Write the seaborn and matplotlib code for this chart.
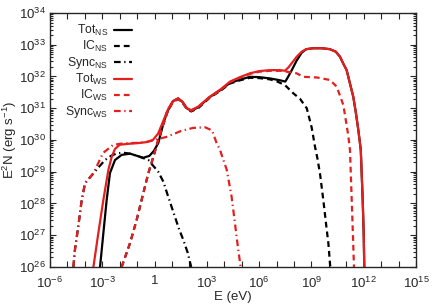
import matplotlib
matplotlib.use("Agg")
import matplotlib.pyplot as plt
import matplotlib.ticker as mticker
import numpy as np
import pandas as pd
import seaborn as sns

# log10(E/eV) と log10(E^2N) を図から読み取った値
tot_ns_x = [-3.13, -2.94, -2.75, -2.56, -2.27, -1.89, -1.41, -1.0, -0.65, -0.3, -0.05, 0.21, 0.48, 0.69,
            1.05, 1.35, 1.6, 1.85, 2.1, 2.5, 3.16, 3.8, 4.33, 4.9, 5.47, 6.0, 6.62, 7.2, 7.5, 7.62,
            7.87, 8.15, 8.44, 8.7, 9.1, 9.6, 10.06, 10.4, 10.64, 10.83, 11.02, 11.2, 11.4, 11.55,
            11.69, 11.83, 11.94, 12.0, 12.03]
tot_ns_y = [26.0, 27.06, 28.11, 28.96, 29.37, 29.53, 29.57, 29.5, 29.44, 29.5, 29.65, 29.9, 30.47, 30.85,
            31.22, 31.31, 31.2, 31.0, 30.92, 31.03, 31.35, 31.58, 31.8, 31.9, 31.99, 31.98, 31.94, 31.88, 31.84, 31.95,
            32.2, 32.5, 32.75, 32.86, 32.89, 32.89, 32.86, 32.78, 32.62, 32.4, 32.2, 31.8, 31.36, 30.85,
            30.31, 29.69, 28.11, 27.0, 26.0]

ic_ns_x = [-1.89, -1.41, -1.03, -0.65, -0.36, -0.07, 0.21, 0.5, 0.75, 1.05, 1.35, 1.6, 1.85, 2.1,
           2.5, 3.16, 3.8, 4.33, 4.9, 5.47, 6.0, 6.62, 7.0, 7.48, 7.96, 8.34, 8.73, 9.01, 9.2,
           9.35, 9.5, 9.68, 9.85, 9.97, 10.08]
ic_ns_y = [26.0, 26.75, 27.48, 28.32, 28.95, 29.47, 30.0, 30.5, 30.9, 31.2, 31.29, 31.18, 30.98, 30.9,
           31.0, 31.33, 31.56, 31.78, 31.88, 31.96, 31.95, 31.91, 31.85, 31.73, 31.47, 31.3, 31.0, 30.4, 29.8,
           29.4, 28.9, 28.11, 27.3, 26.75, 26.0]

sync_ns_x = [-4.66, -4.57, -4.38, -4.18, -3.99, -3.51, -3.2, -2.84, -2.5, -2.17, -1.8, -1.41, -1.0,
             -0.36, 0.21, 0.5, 0.79, 1.07, 1.4, 1.65, 1.9, 2.1]
sync_ns_y = [26.0, 26.54, 27.27, 28.11, 28.64, 28.95, 29.15, 29.37, 29.5, 29.58, 29.6, 29.57, 29.5,
             29.37, 29.0, 28.69, 28.2, 27.74, 27.2, 26.85, 26.45, 26.0]

tot_ws_x = [-3.51, -3.23, -2.94, -2.65, -2.46, -2.27, -2.0, -1.5, -1.0, -0.5, -0.1, 0.2, 0.5, 0.8,
            1.05, 1.35, 1.6, 1.85, 2.1, 2.5, 3.16, 3.8, 4.33, 4.9, 5.47, 6.0, 6.62, 7.2, 7.48, 7.7,
            7.87, 8.15, 8.44, 8.7, 9.1, 9.6, 10.06, 10.4, 10.64, 10.83, 11.02, 11.2, 11.4, 11.55,
            11.69, 11.83, 11.94, 12.0, 12.03]
tot_ws_y = [26.0, 27.06, 28.11, 29.06, 29.47, 29.72, 29.85, 29.88, 29.9, 29.93, 30.0, 30.2, 30.6, 31.0,
            31.22, 31.31, 31.2, 31.0, 30.94, 31.05, 31.36, 31.6, 31.84, 31.98, 32.1, 32.17, 32.2, 32.2, 32.18, 32.3,
            32.42, 32.62, 32.78, 32.86, 32.89, 32.89, 32.86, 32.78, 32.62, 32.4, 32.2, 31.8, 31.36, 30.85,
            30.31, 29.69, 28.11, 27.0, 26.0]

ic_ws_x = [-1.89, -1.41, -1.03, -0.65, -0.36, -0.07, 0.21, 0.5, 0.75, 1.05, 1.35, 1.6, 1.85, 2.1,
           2.5, 3.16, 3.8, 4.33, 4.9, 5.47, 6.0, 6.62, 7.2, 7.48, 8.15, 8.53, 9.3, 10.06, 10.45,
           10.83, 11.11, 11.21, 11.31, 11.38, 11.44]
ic_ws_y = [26.0, 26.75, 27.48, 28.32, 28.95, 29.47, 30.0, 30.5, 30.9, 31.2, 31.29, 31.18, 30.98, 30.92,
           31.03, 31.34, 31.58, 31.82, 31.96, 32.08, 32.15, 32.18, 32.18, 32.16, 32.1, 31.99, 31.97, 31.89, 31.68,
           31.1, 30.15, 29.69, 28.11, 27.0, 26.0]

sync_ws_x = [-4.66, -4.57, -4.38, -4.18, -3.99, -3.51, -2.96, -2.39, -2.0, -1.5, -1.0, -0.5, 0.0,
             0.7, 1.5, 2.2, 2.9, 3.3, 3.56, 3.75, 4.14, 4.42, 4.61, 4.8, 4.94]
sync_ws_y = [26.0, 26.54, 27.27, 28.11, 28.64, 28.95, 29.59, 29.84, 29.88, 29.9, 29.91, 29.93, 30.0,
             30.1, 30.28, 30.38, 30.4, 30.3, 29.9, 29.69, 29.06, 28.21, 27.38, 26.54, 26.0]

x_ticks = [-6, -3, 0, 3, 6, 9, 12, 15]
x_tick_labels = ["10$^{-6}$", "10$^{-3}$", "1", "10$^{3}$", "10$^{6}$", "10$^{9}$", "10$^{12}$", "10$^{15}$"]
y_ticks = [26, 27, 28, 29, 30, 31, 32, 33, 34]
y_tick_labels = ["10$^{%d}$" % v for v in y_ticks]

sns.set_style("ticks")
plt.rcParams["font.family"] = ["Liberation Sans", "DejaVu Sans"]
plt.rcParams["mathtext.fontset"] = "custom"
plt.rcParams["mathtext.rm"] = "Liberation Sans"
plt.rcParams["mathtext.it"] = "Liberation Sans:italic"
plt.rcParams["mathtext.default"] = "regular"

red = "#e3201f"
series = [
    ("Tot$_{NS}$", tot_ns_x, tot_ns_y, "black", "-"),
    ("IC$_{NS}$", ic_ns_x, ic_ns_y, "black", (0, (2.6, 1.8))),
    ("Sync$_{NS}$", sync_ns_x, sync_ns_y, "black", (0, (3.0, 1.6, 0.6, 1.6))),
    ("Tot$_{WS}$", tot_ws_x, tot_ws_y, red, "-"),
    ("IC$_{WS}$", ic_ws_x, ic_ws_y, red, (0, (2.6, 1.8))),
    ("Sync$_{WS}$", sync_ws_x, sync_ws_y, red, (0, (3.0, 1.6, 0.6, 1.6))),
]

fig = plt.figure(figsize=(4.36, 3.05), dpi=100)
ax = fig.add_axes([0.1147, 0.1246, 0.8395, 0.8328])
ax.set_xscale("log")
ax.set_yscale("log")

for label, xs, ys, color, ls in series:
    df = pd.DataFrame({"E": 10.0 ** np.array(xs), "E2N": 10.0 ** np.array(ys)})
    sns.lineplot(data=df, x="E", y="E2N", ax=ax, color=color, linestyle=ls,
                 linewidth=1.6, label=label, sort=False, estimator=None)

ax.set_xlim(1e-6, 1e15)
ax.set_ylim(1e26, 1e34)

ax.xaxis.set_major_locator(mticker.FixedLocator([10.0 ** k for k in range(-6, 16)]))
ax.xaxis.set_minor_locator(mticker.NullLocator())
ax.xaxis.set_major_formatter(mticker.FixedFormatter(
    [x_tick_labels[x_ticks.index(k)] if k in x_ticks else "" for k in range(-6, 16)]))
ax.yaxis.set_major_locator(mticker.FixedLocator([10.0 ** k for k in y_ticks]))
ax.yaxis.set_major_formatter(mticker.FixedFormatter(y_tick_labels))
ax.yaxis.set_minor_locator(mticker.LogLocator(base=10, subs=np.arange(2, 10), numticks=100))
ax.yaxis.set_minor_formatter(mticker.NullFormatter())

ax.tick_params(which="both", direction="in", top=True, right=True, labelsize=9.5, width=0.8)
ax.tick_params(which="major", length=4, pad=3)
ax.tick_params(axis="x", which="major", pad=6)
ax.tick_params(which="minor", length=2)
for s in ax.spines.values():
    s.set_linewidth(1.0)

ax.set_xlabel("E (eV)", fontsize=9.5, labelpad=0)
ax.set_ylabel("E$^2$N (erg s$^{-1}$)", fontsize=9.5, labelpad=0)

leg = ax.legend(loc="upper left", bbox_to_anchor=(0.025, 0.985), frameon=False, markerfirst=False,
                fontsize=8.8, handlelength=1.45, handletextpad=0.5, labelspacing=0.08,
                borderpad=0.2, borderaxespad=0.3)

fig.savefig("out.png", dpi=100)
